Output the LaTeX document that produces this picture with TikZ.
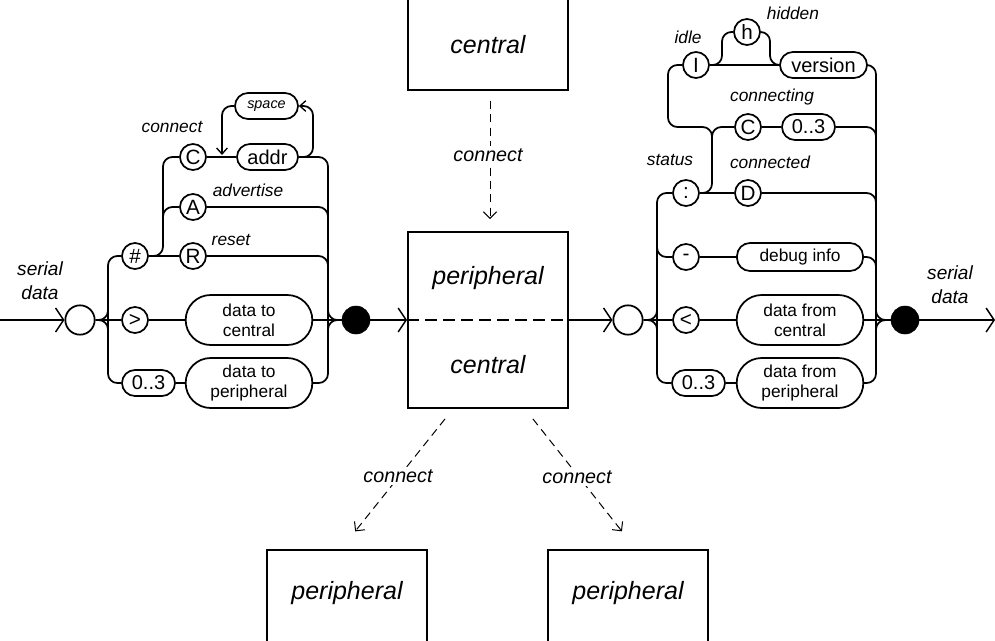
\documentclass[tikz,border=0pt]{standalone}
\usepackage{fontspec}
\setmainfont{Liberation Sans}
\usetikzlibrary{arrows.meta,calc}
\tikzset{
  x=0.75pt, y=-0.75pt,
  rail/.style={line width=1.3pt, rounded corners=7pt},
  term/.style={draw, circle, line width=1.3pt, minimum size=19.5pt, inner sep=0pt, font=\fontsize{15.5}{17}\selectfont},
  tok/.style={draw, rectangle, line width=1.3pt, rounded corners=9.75pt, minimum height=19.5pt, inner sep=0pt, font=\fontsize{15}{17}\selectfont},
  bigtok/.style={draw, rectangle, line width=1.3pt, rounded corners=18.75pt, minimum height=37.5pt, minimum width=95pt, inner sep=0pt, align=center, font=\fontsize{13}{15}\selectfont},
  lbl/.style={font=\itshape\fontsize{13}{15}\selectfont, inner sep=1pt},
  sdlbl/.style={font=\itshape\fontsize{14.3}{18}\selectfont, align=center, inner sep=0pt},
  boxtxt/.style={font=\itshape\fontsize{18.75}{22}\selectfont, inner sep=0pt},
  cbox/.style={draw, line width=1.4pt, minimum width=120pt, inner sep=0pt},
  conlbl/.style={font=\itshape\fontsize{14.8}{18}\selectfont, fill=white, inner sep=2pt},
  flow/.style={line width=1.3pt, -{Straight Barb[length=6pt,width=18pt,line width=1.1pt]}},
  smallarrow/.style={-{Straight Barb[length=4.5pt,width=8pt,line width=1pt]}},
  dasharrow/.style={line width=0.75pt, dash pattern=on 6pt off 4pt, -{Straight Barb[length=5pt,width=10pt,line width=0.75pt]}},
  opendot/.style={draw, circle, line width=1.3pt, minimum size=22pt, inner sep=0pt, fill=white},
  blackdot/.style={draw, circle, fill=black, minimum size=21pt, inner sep=0pt},
}
\begin{document}
\begin{tikzpicture}
\useasboundingbox (0,0) rectangle (995,640);

% ---------------- centre boxes ----------------
\node[cbox, minimum height=75pt] (ctop) at (488,40) {};
\node[boxtxt] (ctoptxt) at (488,45) {central};
\node[cbox, minimum height=132pt] (mid) at (488,320) {};
\node[boxtxt] (midp) at (488,278) {peripheral};
\node[boxtxt] (midc) at (488,365) {central};
\draw[line width=1.3pt, dash pattern=on 9pt off 4.5pt] (mid.west) -- (mid.east);
\node[cbox, minimum height=75pt] (pL) at (347,600) {};
\node[boxtxt] (pLt) at (347,593) {peripheral};
\node[cbox, minimum height=75pt] (pR) at (628,600) {};
\node[boxtxt] (pRt) at (628,593) {peripheral};

\draw[dasharrow, shorten <=7.5pt, shorten >=9pt] ([xshift=1.5pt]ctop.south) -- ([xshift=1.5pt]mid.north);
\node[conlbl] (lc1) at (488,155) {connect};
\draw[dasharrow, shorten <=9.6pt, shorten >=17pt] ([xshift=-26.25pt]mid.south) -- ([xshift=-4.5pt]pL.north);
\node[conlbl] (lc2) at (398,476) {connect};
\draw[dasharrow, shorten <=9.5pt, shorten >=17pt] ([xshift=27.75pt]mid.south) -- ([xshift=6pt]pR.north);
\node[conlbl] (lc3) at (577,477) {connect};

% ---------------- left diagram ----------------
\coordinate (inL) at (0,320);
\node[opendot] (oL) at (80,320) {};
\node[term] (hash) at (135,256) {\#};
\node[term] (gt) at (135,320) {>};
\node[tok, minimum width=39.75pt] (r03L) at (148.5,383) {0..3};
\node[bigtok] (dtc) at (249,320) {data to\\central};
\node[bigtok] (dtp) at (249,383) {data to\\peripheral};
\node[term] (C1) at (193,157) {C};
\node[term] (A1) at (193,207) {A};
\node[term] (R1) at (193,256) {R};
\node[tok, minimum width=45.75pt] (addr) at (267.5,157) {addr};
\node[tok, minimum width=47.25pt, font=\itshape\fontsize{10.8}{12}\selectfont] (space) at (266.5,106) {space};
\node[blackdot] (dotL) at (356,320) {};

\node[sdlbl] (sdL) at (40,281) {serial\\data};
\node[lbl] (lconnect) at (172,127) {connect};
\node[lbl] (ladv) at (248,190) {advertise};
\node[lbl] (lreset) at (231,240) {reset};

\draw[flow] (inL) -- (oL.west);
\draw[rail] (oL.east) -- (gt.west);
\draw[rail] (108,300) -- (108,320) -- (oL.east);
\draw[rail] (108,340) -- (108,320) -- (oL.east);
\draw[rail] (hash.west) -- (108,256) -- (108,383) -- (r03L.west);
\draw[rail] (gt.east) -- (dtc.west);
\draw[rail] (r03L.east) -- (dtp.west);
\draw[rail] (hash.east) -- (R1.west);
\draw[rail] (hash.east) -- (163,256) -- (163,157) -- (C1.west);
\draw[rail] (163,235) -- (163,207) -- (A1.west);
\draw[rail] (C1.east) -- (addr.west);
\draw[rail, smallarrow] (addr.east) -- (313,157) -- (313,106) -- (space.east);
\draw[rail, smallarrow] (space.west) -- (222,106) -- (222,155);
\draw[rail] (addr.east) -- (328,157) -- (328,383) -- (dtp.east);
\draw[rail] (A1.east) -- (328,207) -- (328,235);
\draw[rail] (R1.east) -- (328,256) -- (328,285);
\draw[rail] (dtc.east) -- (dotL.west);
\draw[rail] (328,300) -- (328,320) -- (dotL.west);
\draw[rail] (328,340) -- (328,320) -- (dotL.west);
\draw[flow] (dotL.east) -- (mid.west);

% ---------------- right diagram ----------------
\node[opendot] (oR) at (628,320) {};
\draw[flow] (mid.east) -- (oR.west);
\node[term] (colon) at (686,193) {:};
\node[term] (minus) at (686,257) {-};
\node[term] (lt) at (686,320) {<};
\node[tok, minimum width=39.75pt] (r03R) at (698.5,383) {0..3};
\node[tok, minimum width=94.5pt, minimum height=21pt, font=\fontsize{13}{15}\selectfont] (debug) at (800,257) {debug info};
\node[bigtok] (dfc) at (800,320) {data from\\central};
\node[bigtok] (dfp) at (800,383) {data from\\peripheral};
\node[term] (D) at (748,193) {D};
\node[term] (C2) at (748,127) {C};
\node[tok, minimum width=39.75pt] (r03C) at (808.5,127) {0..3};
\node[term] (I) at (696,65) {I};
\node[term] (h) at (747,32) {h};
\node[tok, minimum width=65.25pt] (version) at (823.5,65) {version};
\node[blackdot] (dotR) at (905,320) {};
\coordinate (outR) at (995,320);

\node[sdlbl] (sdR) at (950,285) {serial\\data};
\node[lbl] (lidle) at (688,37) {idle};
\node[lbl] (lhidden) at (793,13) {hidden};
\node[lbl] (lconnecting) at (772,97) {connecting};
\node[lbl] (lstatus) at (670,160) {status};
\node[lbl] (lconnected) at (770,162) {connected};

\draw[rail] (oR.east) -- (lt.west);
\draw[rail] (657,300) -- (657,320) -- (oR.east);
\draw[rail] (657,340) -- (657,320) -- (oR.east);
\draw[rail] (lt.east) -- (dfc.west);
\draw[rail] (dfc.east) -- (dotR.west);
\draw[rail] (876,300) -- (876,320) -- (dotR.west);
\draw[rail] (876,340) -- (876,320) -- (dotR.west);
\draw[flow] (dotR.east) -- (outR);
\draw[rail] (colon.west) -- (657,193) -- (657,383) -- (r03R.west);
\draw[rail] (657,230) -- (657,257) -- (minus.west);
\draw[rail] (minus.east) -- (debug.west);
\draw[rail] (r03R.east) -- (dfp.west);
\draw[rail] (colon.east) -- (D.west);
\draw[rail] (colon.east) -- (712,193) -- (712,127) -- (C2.west);
\draw[rail] (C2.east) -- (r03C.west);
\draw[rail] (712,150) -- (712,127) -- (668,127) -- (668,65) -- (I.west);
\draw[rail] (I.east) -- (version.west);
\draw[rail] (I.east) -- (722,65) -- (722,32) -- (h.west);
\draw[rail] (h.east) -- (770,32) -- (770,65) -- (version.west);
\draw[rail] (version.east) -- (876,65) -- (876,383) -- (dfp.east);
\draw[rail] (r03C.east) -- (876,127) -- (876,160);
\draw[rail] (D.east) -- (876,193) -- (876,225);
\draw[rail] (debug.east) -- (876,257) -- (876,290);
\end{tikzpicture}
\end{document}
